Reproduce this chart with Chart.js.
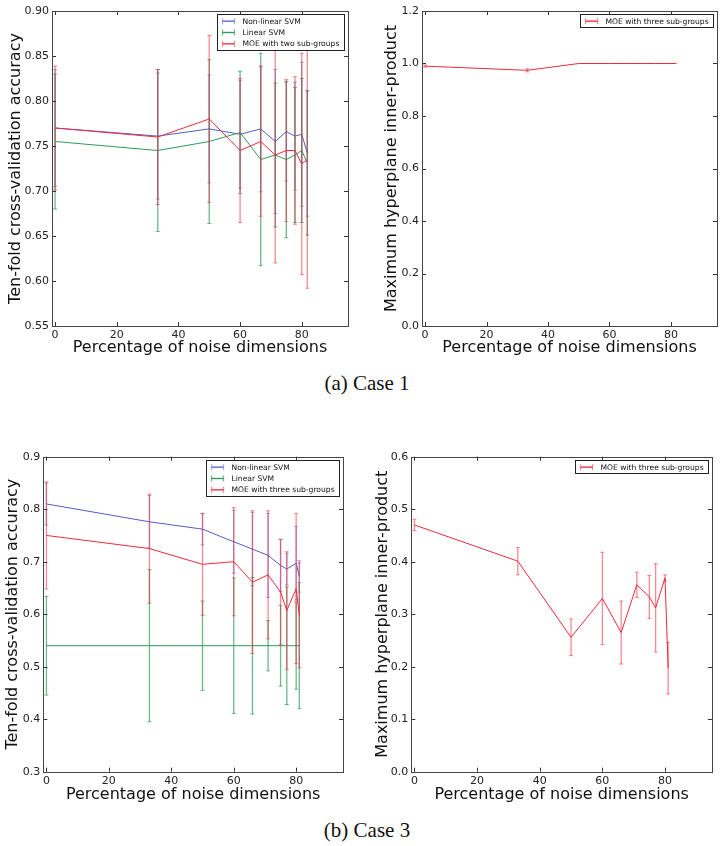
<!DOCTYPE html>
<html><head><meta charset="utf-8">
<script src="https://cdn.jsdelivr.net/npm/chart.js@4.4.0/dist/chart.umd.min.js"></script>
<style>
html,body{margin:0;padding:0;background:#fff;width:724px;height:846px;overflow:hidden;}
canvas{position:absolute;}
.cap{position:absolute;left:0;width:734px;text-align:center;font-family:'Liberation Serif','DejaVu Serif',serif;font-size:21px;line-height:24px;color:#111;}
</style></head><body>
<canvas id="c1" width="362" height="365" style="left:0;top:0"></canvas>
<canvas id="c2" width="362" height="365" style="left:362px;top:0"></canvas>
<canvas id="c3" width="362" height="370" style="left:0;top:440px"></canvas>
<canvas id="c4" width="362" height="370" style="left:362px;top:440px"></canvas>
<div class="cap" style="top:371px">(a) Case 1</div>
<div class="cap" style="top:818px">(b) Case 3</div>
<script>
// ---------- data ----------
const X_CASE1 = [0, 33.3, 50, 60, 66.7, 71.4, 75, 77.8, 80, 81.8];
const X_CASE3 = [0, 33, 50, 60, 66, 71, 75, 77, 80, 81];
const XTICKS = [0, 20, 40, 60, 80];

const YTICKS_A_ACC = [0.55, 0.60, 0.65, 0.70, 0.75, 0.80, 0.85, 0.90];
const YTICKS_A_INNER = [0.0, 0.2, 0.4, 0.6, 0.8, 1.0, 1.2];
const YTICKS_B_ACC = [0.3, 0.4, 0.5, 0.6, 0.7, 0.8, 0.9];
const YTICKS_B_INNER = [0.0, 0.1, 0.2, 0.3, 0.4, 0.5, 0.6];

// Case 1 accuracy
const A_NONLIN = [0.770, 0.761, 0.769, 0.763, 0.769, 0.755, 0.766, 0.761, 0.763, 0.742];
const A_NONLIN_ERR = [0.065, 0.070, 0.060, 0.060, 0.070, 0.080, 0.055, 0.060, 0.080, 0.070];
const A_LIN = [0.755, 0.745, 0.755, 0.765, 0.735, 0.740, 0.735, 0.740, 0.745, 0.731];
const A_LIN_ERR = [0.075, 0.090, 0.091, 0.068, 0.118, 0.080, 0.087, 0.075, 0.080, 0.080];
const A_MOE = [0.770, 0.760, 0.780, 0.745, 0.755, 0.740, 0.745, 0.745, 0.730, 0.735];
const A_MOE_ERR = [0.069, 0.075, 0.093, 0.080, 0.083, 0.120, 0.079, 0.082, 0.123, 0.143];
// Case 1 inner product
const A_INNER = [0.990, 0.974, 1.0, 1.0, 1.0, 1.0, 1.0, 1.0, 1.0, 1.0];
const A_INNER_ERR = [0.004, 0.006, 0, 0, 0, 0, 0, 0, 0, 0];

// Case 3 accuracy
const B_NONLIN = [0.810, 0.776, 0.762, 0.738, 0.724, 0.712, 0.693, 0.686, 0.697, 0.672];
const B_NONLIN_ERR = [0.040, 0.050, 0.030, 0.060, 0.070, 0.080, 0.050, 0.030, 0.070, 0.030];
const B_LIN = [0.54, 0.54, 0.54, 0.54, 0.54, 0.54, 0.54, 0.54, 0.54, 0.54];
const B_LIN_ERR = [0.094, 0.145, 0.085, 0.129, 0.130, 0.048, 0.077, 0.112, 0.083, 0.120];
const B_MOE = [0.750, 0.725, 0.695, 0.700, 0.661, 0.675, 0.642, 0.607, 0.649, 0.598];
const B_MOE_ERR = [0.102, 0.104, 0.097, 0.103, 0.136, 0.122, 0.100, 0.112, 0.143, 0.100];
// Case 3 inner product
const B_INNER = [0.470, 0.401, 0.256, 0.330, 0.265, 0.356, 0.333, 0.312, 0.369, 0.197];
const B_INNER_ERR = [0.011, 0.026, 0.035, 0.088, 0.060, 0.024, 0.041, 0.084, 0.006, 0.049];

// ---------- styling ----------
const FONT = "'DejaVu Sans', 'Liberation Sans', sans-serif";
const COL = {
  blue:  {line: '#4d60c4', err: 'rgba(77,96,196,0.5)'},
  green: {line: '#2f9a5c', err: 'rgba(47,154,92,0.7)'},
  red:   {line: '#f0283c', err: 'rgba(240,40,60,0.55)'}
};

function series(label, xs, ys, errs, c, order) {
  return {
    label, order,
    data: xs.map((x, i) => ({x, y: ys[i]})),
    errors: errs,
    borderColor: COL[c].line, errColor: COL[c].err,
    backgroundColor: COL[c].line,
    borderWidth: 1, pointRadius: 0, pointHoverRadius: 0,
    showLine: true, fill: false, tension: 0
  };
}

const errorBars = {
  id: 'errorBars',
  afterDatasetDraw(chart, args) {
    const ds = chart.data.datasets[args.index];
    if (!ds.errors) return;
    const {ctx, chartArea: a, scales: {x, y}} = chart;
    ctx.save();
    ctx.beginPath(); ctx.rect(a.left, a.top, a.right - a.left, a.bottom - a.top); ctx.clip();
    ctx.strokeStyle = ds.errColor;
    ds.data.forEach((p, i) => {
      const e = ds.errors[i]; if (!e) return;
      const px = x.getPixelForValue(p.x);
      const y1 = y.getPixelForValue(p.y - e), y2 = y.getPixelForValue(p.y + e);
      ctx.lineWidth = 1.3;
      ctx.beginPath(); ctx.moveTo(px, y1); ctx.lineTo(px, y2); ctx.stroke();
      ctx.lineWidth = 1;
      ctx.beginPath();
      ctx.moveTo(px - 2, y1); ctx.lineTo(px + 2, y1);
      ctx.moveTo(px - 2, y2); ctx.lineTo(px + 2, y2);
      ctx.stroke();
    });
    ctx.restore();
  }
};

const frame = {
  id: 'frame',
  afterDatasetsDraw(chart) {
    const {ctx, chartArea: a, scales: {x, y}} = chart;
    ctx.save();
    ctx.strokeStyle = '#333'; ctx.lineWidth = 1;
    ctx.beginPath();
    x.ticks.forEach(t => {
      const p = Math.round(x.getPixelForValue(t.value)) + 0.5;
      ctx.moveTo(p, a.bottom); ctx.lineTo(p, a.bottom - 4);
      ctx.moveTo(p, a.top); ctx.lineTo(p, a.top + 4);
    });
    y.ticks.forEach(t => {
      const p = Math.round(y.getPixelForValue(t.value)) + 0.5;
      ctx.moveTo(a.left, p); ctx.lineTo(a.left + 4, p);
      ctx.moveTo(a.right, p); ctx.lineTo(a.right - 4, p);
    });
    ctx.stroke();
    ctx.strokeStyle = '#444';
    ctx.strokeRect(Math.round(a.left) + 0.5, Math.round(a.top) + 0.5,
                   Math.round(a.right - a.left), Math.round(a.bottom - a.top));
    ctx.restore();
  }
};

const boxLegend = {
  id: 'boxLegend',
  afterDraw(chart) {
    const {ctx, chartArea: a} = chart;
    const ds = chart.data.datasets;
    ctx.save();
    ctx.font = "7.6px " + FONT;
    const tw = Math.max(...ds.map(d => ctx.measureText(d.label).width));
    const rowH = 11.3, w = Math.round(tw + 30), h = Math.round(13.4 + rowH * (ds.length - 1));
    const L = Math.round(a.right - 4 - w) + 0.5, T = Math.round(a.top + 3) + 0.5;
    ctx.fillStyle = '#fff'; ctx.fillRect(L, T, w, h);
    ctx.strokeStyle = '#222'; ctx.lineWidth = 1; ctx.strokeRect(L, T, w, h);
    ds.forEach((d, i) => {
      const cy = T + 6.7 + i * rowH;
      ctx.strokeStyle = d.errColor; ctx.lineWidth = 1.3;
      ctx.beginPath();
      ctx.moveTo(L + 5, cy); ctx.lineTo(L + 17, cy);
      ctx.moveTo(L + 5, cy - 3); ctx.lineTo(L + 5, cy + 3);
      ctx.moveTo(L + 17, cy - 3); ctx.lineTo(L + 17, cy + 3);
      ctx.stroke();
      ctx.strokeStyle = d.borderColor; ctx.lineWidth = 1;
      ctx.beginPath(); ctx.moveTo(L + 5, cy); ctx.lineTo(L + 17, cy); ctx.stroke();
      ctx.fillStyle = '#111'; ctx.textBaseline = 'middle'; ctx.textAlign = 'left';
      ctx.fillText(d.label, L + 25, cy + 0.5);
    });
    ctx.restore();
  }
};

function makeChart(id, p) {
  return new Chart(document.getElementById(id), {
    type: 'scatter',
    data: {datasets: p.datasets},
    plugins: [errorBars, frame, boxLegend],
    options: {
      responsive: false, animation: false, devicePixelRatio: 1,
      layout: {padding: {left: 0, top: p.padTop, right: p.padRight, bottom: 0}},
      plugins: {legend: {display: false}, tooltip: {enabled: false}},
      scales: {
        x: {
          type: 'linear', min: -1, max: 95,
          afterBuildTicks: s => { s.ticks = XTICKS.map(v => ({value: v})); },
          afterFit: s => { s.height = p.xH; },
          grid: {display: false, drawTicks: false}, border: {display: false},
          ticks: {font: {family: FONT, size: 11}, color: '#222', padding: 3, maxRotation: 0,
                  callback: v => String(v)},
          title: {display: true, text: 'Percentage of noise dimensions', color: '#111',
                  font: {family: FONT, size: 16}, padding: {top: 0, bottom: p.xTitlePad}}
        },
        y: {
          type: 'linear', min: p.yTicks[0], max: p.yTicks[p.yTicks.length - 1],
          afterBuildTicks: s => { s.ticks = p.yTicks.map(v => ({value: v})); },
          afterFit: s => { s.width = p.yW; },
          grid: {display: false, drawTicks: false}, border: {display: false},
          ticks: {font: {family: FONT, size: 11}, color: '#222', padding: 3,
                  callback: v => Number(v).toFixed(p.dec)},
          title: {display: true, text: p.yTitle, color: '#111',
                  font: {family: FONT, size: 16}, padding: {top: p.yTitlePad, bottom: 0}}
        }
      }
    }
  });
}

makeChart('c1', {
  datasets: [
    series('Non-linear SVM', X_CASE1, A_NONLIN, A_NONLIN_ERR, 'blue', 3),
    series('Linear SVM', X_CASE1, A_LIN, A_LIN_ERR, 'green', 2),
    series('MOE with two sub-groups', X_CASE1, A_MOE, A_MOE_ERR, 'red', 1)
  ],
  yTicks: YTICKS_A_ACC, dec: 2, yTitle: 'Ten-fold cross-validation accuracy',
  padTop: 11, padRight: 14, yW: 52, xH: 39, yTitlePad: 6, xTitlePad: 7.4
});
makeChart('c2', {
  datasets: [series('MOE with three sub-groups', X_CASE1, A_INNER, A_INNER_ERR, 'red', 1)],
  yTicks: YTICKS_A_INNER, dec: 1, yTitle: 'Maximum hyperplane inner-product',
  padTop: 11, padRight: 7, yW: 60, xH: 39, yTitlePad: 20.7, xTitlePad: 7.4
});
makeChart('c3', {
  datasets: [
    series('Non-linear SVM', X_CASE3, B_NONLIN, B_NONLIN_ERR, 'blue', 3),
    series('Linear SVM', X_CASE3, B_LIN, B_LIN_ERR, 'green', 2),
    series('MOE with three sub-groups', X_CASE3, B_MOE, B_MOE_ERR, 'red', 1)
  ],
  yTicks: YTICKS_B_ACC, dec: 1, yTitle: 'Ten-fold cross-validation accuracy',
  padTop: 16.7, padRight: 19, yW: 43.3, xH: 38.3, yTitlePad: 3.7, xTitlePad: 5.4
});
makeChart('c4', {
  datasets: [series('MOE with three sub-groups', X_CASE3, B_INNER, B_INNER_ERR, 'red', 1)],
  yTicks: YTICKS_B_INNER, dec: 1, yTitle: 'Maximum hyperplane inner-product',
  padTop: 16.7, padRight: 12, yW: 49.3, xH: 38.3, yTitlePad: 11.1, xTitlePad: 5.4
});
</script>
</body></html>
